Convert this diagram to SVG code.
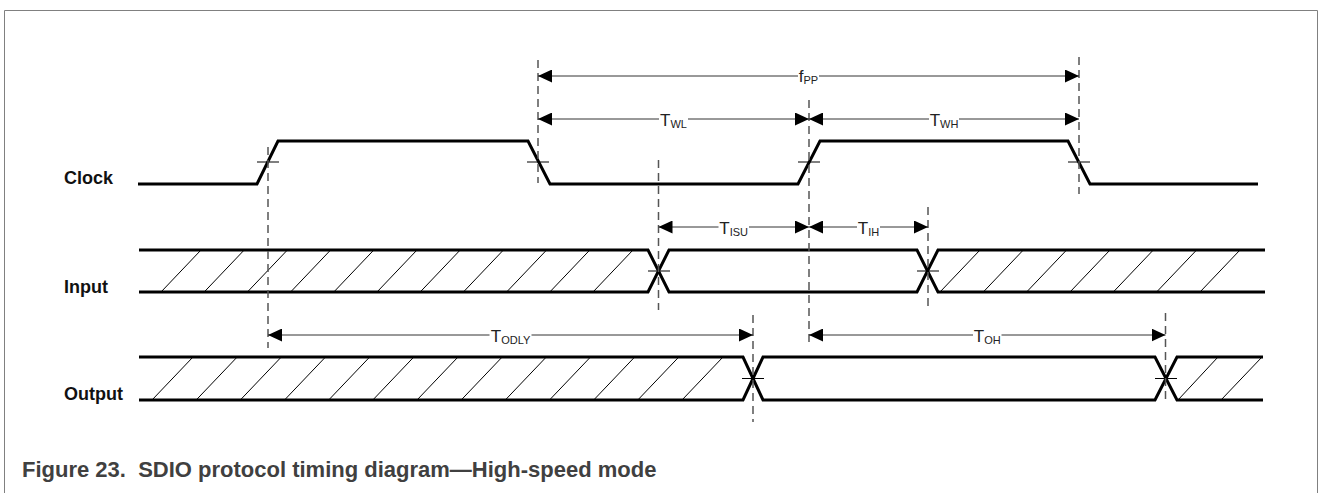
<svg xmlns="http://www.w3.org/2000/svg" width="1327" height="493" viewBox="0 0 1327 493">
<style>
.frame{fill:none;stroke:#808080;stroke-width:1}
.sig{fill:none;stroke:#000;stroke-width:3;stroke-linejoin:miter}
.hatch{stroke:#000;stroke-width:1;fill:none}
.tick{stroke:#000;stroke-width:1.2}
.dash{stroke:#555;stroke-width:1.5;stroke-dasharray:8 5;fill:none}
.dim{stroke:#333;stroke-width:1;fill:none}
.ds{marker-start:url(#arr)}
.de{marker-end:url(#arr)}
.lbl{font-family:"Liberation Sans",Arial,sans-serif;font-weight:bold;font-size:18px;fill:#111}
.dl{font-family:"Liberation Sans",Arial,sans-serif;font-size:17px;fill:#222;text-anchor:middle}
.sub{font-size:11px}
.cap{font-family:"Liberation Sans",Arial,sans-serif;font-weight:bold;font-size:22px;fill:#404040;white-space:pre}
</style>
<defs>
<marker id="arr" markerUnits="userSpaceOnUse" markerWidth="14" markerHeight="13" viewBox="0 0 14 13" refX="14" refY="6.5" orient="auto-start-reverse">
<path d="M0,0 L14,6.5 L0,13 Z" fill="#000"/>
</marker>
</defs>
<path class="frame" d="M4.5,493 V10.5 H1317.5 V493"/>

<g id="clock">
<text class="lbl" x="64" y="184">Clock</text>
<path class="sig" d="M138,184 H257 L278,141 H528 L550,184 H798 L820,141 H1068 L1090,184 H1258"/>
<path class="tick" d="M257,162H279 M527,162H549 M798,162H820 M1068,162H1090"/>
</g>

<g id="input">
<text class="lbl" x="64" y="293">Input</text>
<path class="hatch" d="M161,292L201,250 M204.2,292L244.2,250 M247.4,292L287.4,250 M290.6,292L330.6,250 M333.8,292L373.8,250 M377,292L417,250 M420.2,292L460.2,250 M463.4,292L503.4,250 M506.6,292L546.6,250 M549.8,292L589.8,250 M593,292L633,250 M940,292L980,250 M983.3,292L1023.3,250 M1026.6,292L1066.6,250 M1070,292L1110,250 M1113.3,292L1153.3,250 M1156.6,292L1196.6,250 M1200,292L1240,250"/>
<path class="sig" d="M139,250 H648 L669,292 H917 L938,250 H1265"/>
<path class="sig" d="M139,292 H648 L669,250 H917 L938,292 H1265"/>
<path class="tick" d="M648,271H670 M917,271H939"/>
</g>

<g id="output">
<text class="lbl" x="64" y="400">Output</text>
<path class="hatch" d="M152,400L193,357 M196.2,400L237.2,357 M240.3,400L281.3,357 M284.5,400L325.5,357 M328.7,400L369.7,357 M372.8,400L413.8,357 M417,400L458,357 M461.2,400L502.2,357 M505.3,400L546.3,357 M549.5,400L590.5,357 M593.7,400L634.7,357 M637.8,400L678.8,357 M682,400L723,357 M1178,400L1218,357 M1221,400L1262,357"/>
<path class="sig" d="M139,357 H743 L763,400 H1155 L1177,357 H1263"/>
<path class="sig" d="M139,400 H743 L763,357 H1155 L1177,400 H1263"/>
<path class="tick" d="M742,378.5H764 M1155,378.5H1177"/>
</g>

<g id="connectors">
<path class="dash" d="M268,147V348 M538,60V183 M658.5,160V310 M809,100V346 M1079,57V194 M928,207V310 M753,315V422 M1165.5,313V403"/>
<line class="dim ds" x1="538" y1="76" x2="798" y2="76"/>
<line class="dim de" x1="819" y1="76" x2="1079" y2="76"/>
<line class="dim ds" x1="538" y1="119" x2="659" y2="119"/>
<line class="dim de" x1="688" y1="119" x2="809" y2="119"/>
<line class="dim ds" x1="809" y1="119" x2="929" y2="119"/>
<line class="dim de" x1="959" y1="119" x2="1079" y2="119"/>
<line class="dim ds" x1="658.5" y1="227" x2="718.5" y2="227"/>
<line class="dim de" x1="749" y1="227" x2="809" y2="227"/>
<line class="dim ds" x1="809" y1="227" x2="857" y2="227"/>
<line class="dim de" x1="880" y1="227" x2="928" y2="227"/>
<line class="dim ds" x1="268" y1="335" x2="489.5" y2="335"/>
<line class="dim de" x1="531.5" y1="335" x2="753" y2="335"/>
<line class="dim ds" x1="809" y1="335" x2="973" y2="335"/>
<line class="dim de" x1="1001.5" y1="335" x2="1165.5" y2="335"/>
</g>

<g id="labels">
<text class="dl" x="808.5" y="82">f<tspan class="sub" dy="2">PP</tspan></text>
<text class="dl" x="673.5" y="125.5">T<tspan class="sub" dy="2">WL</tspan></text>
<text class="dl" x="944" y="125.5">T<tspan class="sub" dy="2">WH</tspan></text>
<text class="dl" x="733.7" y="233.5">T<tspan class="sub" dy="2">ISU</tspan></text>
<text class="dl" x="868.5" y="233.5">T<tspan class="sub" dy="2">IH</tspan></text>
<text class="dl" x="510.5" y="341.5">T<tspan class="sub" dy="2">ODLY</tspan></text>
<text class="dl" x="987.25" y="341.5">T<tspan class="sub" dy="2">OH</tspan></text>
</g>

<text class="cap" x="22" y="477">Figure 23.  SDIO protocol timing diagram—High-speed mode</text>
</svg>
